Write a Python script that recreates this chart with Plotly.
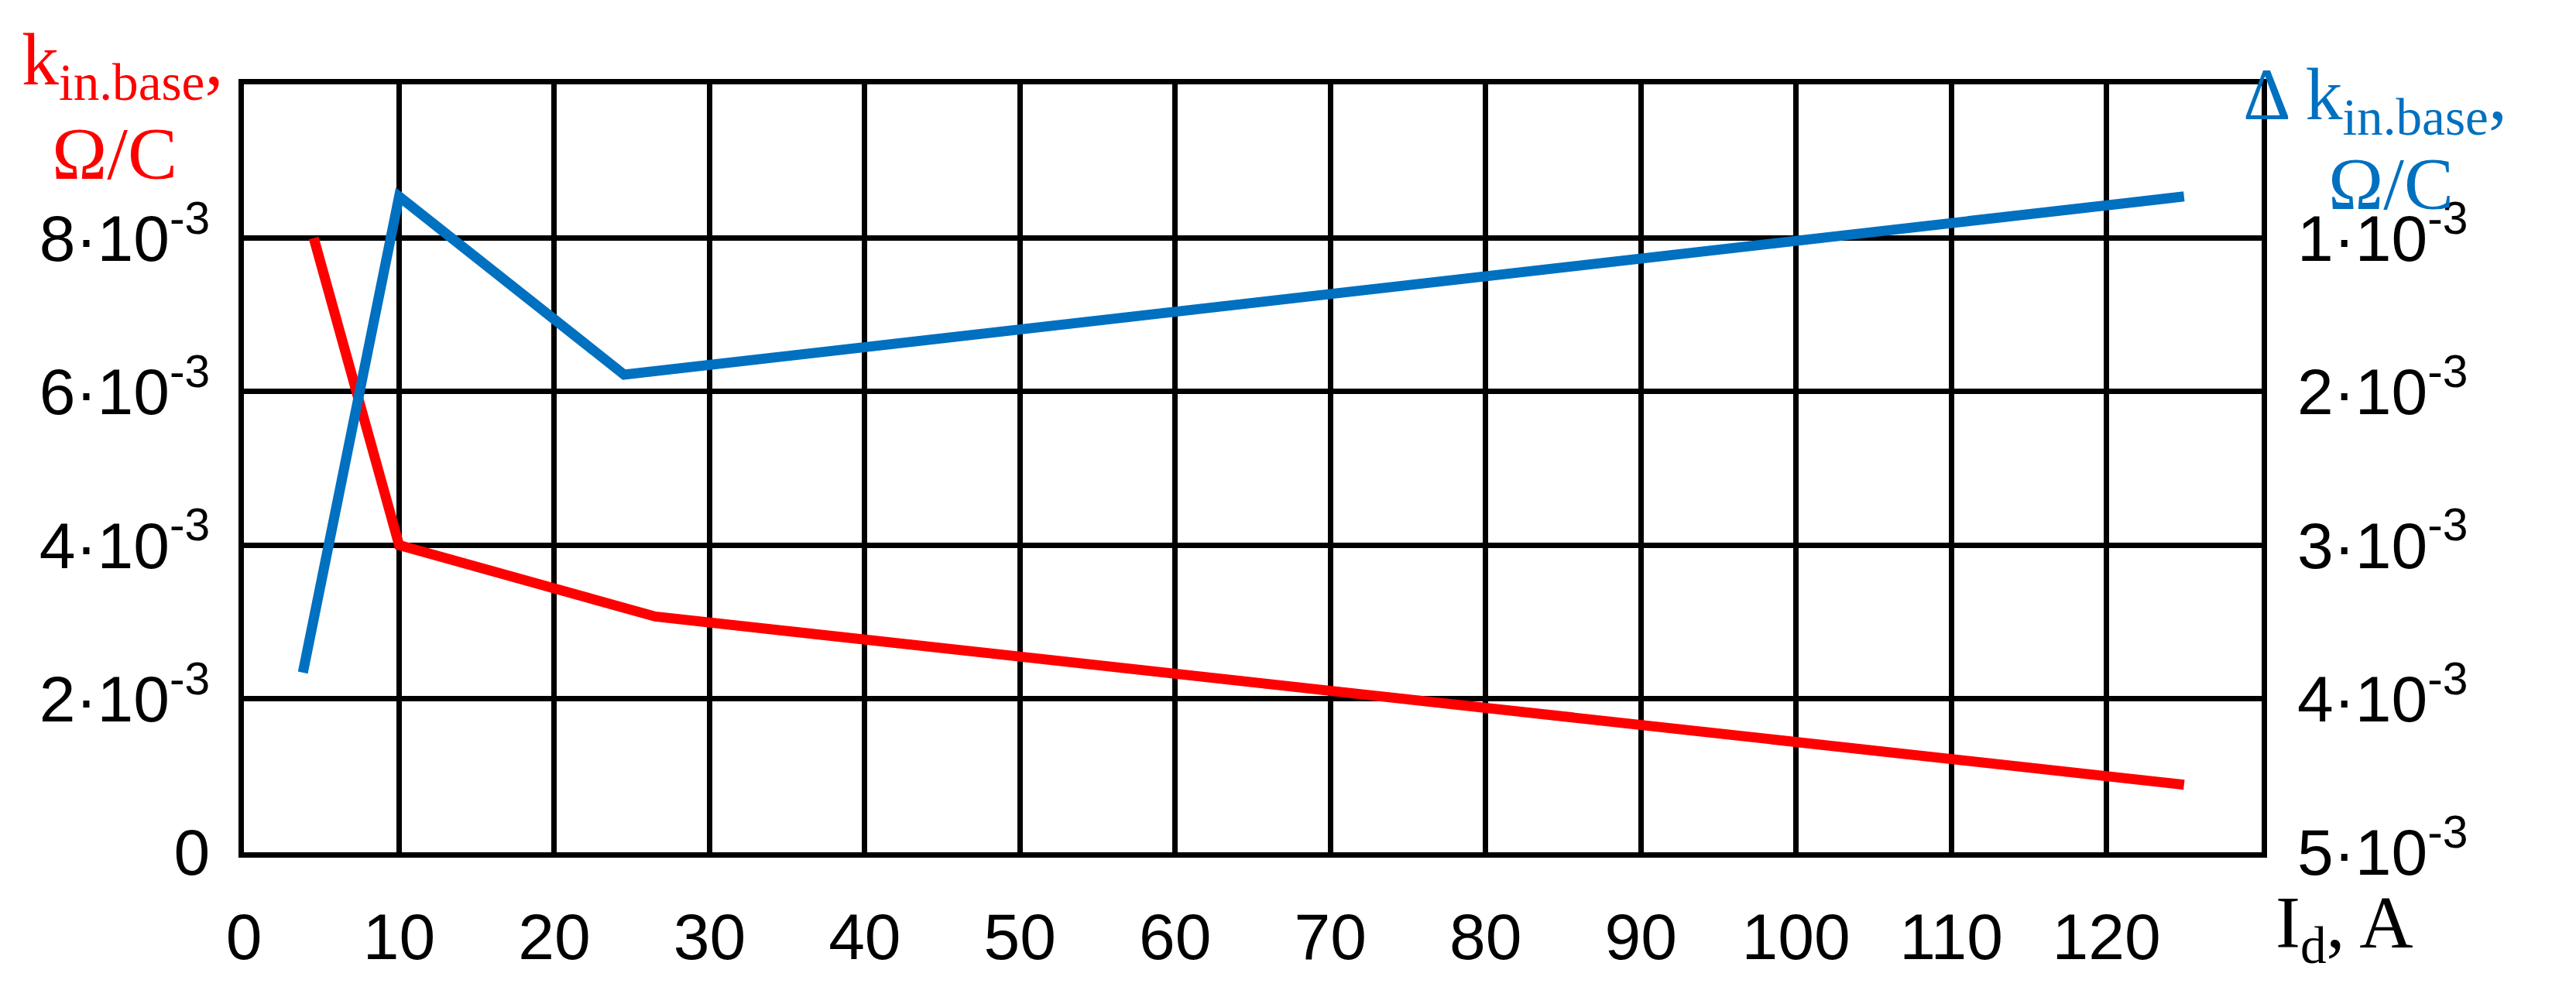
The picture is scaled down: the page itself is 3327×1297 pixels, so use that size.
import plotly.graph_objects as go

red_x = [4.5, 10, 26.5, 125]
red_y = [8.0e-3, 4.0e-3, 3.07e-3, 0.88e-3]
blue_x = [3.8, 10, 24.5, 125]
blue_y = [3.83e-3, 0.73e-3, 1.89e-3, 0.73e-3]

left_vals = [0, 2e-3, 4e-3, 6e-3, 8e-3]
left_text = ["0", "2·10<sup>-3</sup>", "4·10<sup>-3</sup>", "6·10<sup>-3</sup>", "8·10<sup>-3</sup>"]
right_vals = [1e-3, 2e-3, 3e-3, 4e-3, 5e-3]
right_text = ["1·10<sup>-3</sup>", "2·10<sup>-3</sup>", "3·10<sup>-3</sup>", "4·10<sup>-3</sup>", "5·10<sup>-3</sup>"]
x_ticks = list(range(0, 130, 10))

W, H = 3327, 1297
L, R, T, B = 307, 414, 101, 204
pw, ph = W - L - R, H - T - B
def px(x): return (x - L) / pw
def py(y): return (H - B - y) / ph

fig = go.Figure()
fig.add_trace(go.Scatter(x=red_x, y=red_y, mode="lines", line=dict(color="#ff0000", width=13), yaxis="y"))
fig.add_trace(go.Scatter(x=blue_x, y=blue_y, mode="lines", line=dict(color="#0070c0", width=13), yaxis="y2"))

tickfont = dict(family="Liberation Sans Narrow, Liberation Sans", size=84, color="black")
fig.update_layout(
    width=W, height=H, showlegend=False,
    plot_bgcolor="white", paper_bgcolor="white",
    margin=dict(l=L, r=R, t=T, b=B),
    xaxis=dict(range=[0, 130], tickvals=x_ticks, ticks="", tickfont=tickfont, ticklabelstandoff=30,
               showgrid=True, gridcolor="black", gridwidth=7, zeroline=False,
               showline=True, linecolor="black", linewidth=7, mirror=True),
    yaxis=dict(range=[0, 10e-3], tickvals=left_vals, ticktext=left_text, ticks="", tickfont=tickfont,
               showgrid=True, gridcolor="black", gridwidth=7, zeroline=False,
               showline=True, linecolor="black", linewidth=7, mirror=True, ticklabelstandoff=20),
    yaxis2=dict(range=[5e-3, 0], overlaying="y", side="right", tickvals=right_vals, ticktext=right_text,
                ticks="", tickfont=tickfont, showgrid=False, zeroline=False, ticklabelstandoff=45),
)

serif = "Liberation Serif"
anns = [
    (150, 75, "k<sub>in.base</sub>,", "#ff0000"),
    (140, 190, "Ω/C", "#ff0000"),
    (3060, 120, "Δ k<sub>in.base</sub>,", "#0070c0"),
    (3080, 230, "Ω/C", "#0070c0"),
    (3020, 1190, "I<sub>d</sub>, A", "black"),
]
for x, y, t, c in anns:
    fig.add_annotation(x=px(x), y=py(y), xref="paper", yref="paper", text=t, showarrow=False,
                       font=dict(family=serif, size=96, color=c), xanchor="center", yanchor="middle")

fig.write_html("out.html")
